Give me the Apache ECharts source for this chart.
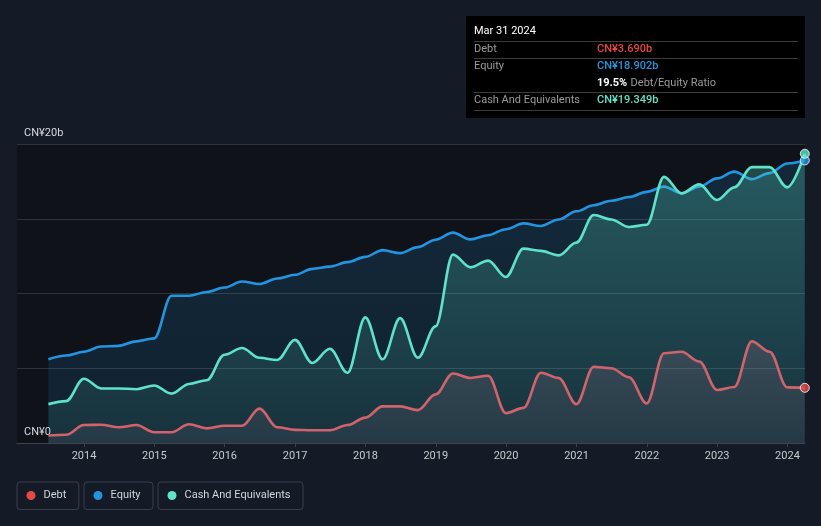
<!DOCTYPE html>
<html>
<head>
<meta charset="utf-8">
<script src="https://cdn.jsdelivr.net/npm/echarts@6/dist/echarts.min.js"></script>
<style>
html,body{margin:0;padding:0;background:#151b26;}
#c{width:821px;height:526px;}
</style>
</head>
<body>
<div id="c"></div>
<script>
// ---- data (CN¥ billions, quarter ends) ----
const dates = [
  '2013-06-30','2013-09-30','2013-12-31',
  '2014-03-31','2014-06-30','2014-09-30','2014-12-31',
  '2015-03-31','2015-06-30','2015-09-30','2015-12-31',
  '2016-03-31','2016-06-30','2016-09-30','2016-12-31',
  '2017-03-31','2017-06-30','2017-09-30','2017-12-31',
  '2018-03-31','2018-06-30','2018-09-30','2018-12-31',
  '2019-03-31','2019-06-30','2019-09-30','2019-12-31',
  '2020-03-31','2020-06-30','2020-09-30','2020-12-31',
  '2021-03-31','2021-06-30','2021-09-30','2021-12-31',
  '2022-03-31','2022-06-30','2022-09-30','2022-12-31',
  '2023-03-31','2023-06-30','2023-09-30','2023-12-31',
  '2024-03-31'
];
const debt = [
  0.50, 0.55, 1.20,
  1.22, 1.05, 1.20, 0.72,
  0.72, 1.25, 0.98, 1.15,
  1.15, 2.30, 1.05, 0.88,
  0.85, 0.85, 1.20, 1.70,
  2.45, 2.45, 2.20, 3.25,
  4.65, 4.35, 4.50, 2.00,
  2.35, 4.70, 4.35, 2.60,
  5.10, 5.00, 4.40, 2.65,
  6.00, 6.10, 5.45, 3.55,
  3.75, 6.80, 6.10, 3.72,
  3.690
];
const equity = [
  5.60, 5.85, 6.10,
  6.45, 6.50, 6.80, 7.00,
  9.85, 9.85, 10.10, 10.40,
  10.80, 10.64, 11.00, 11.25,
  11.65, 11.80, 12.10, 12.45,
  12.90, 12.70, 13.10, 13.60,
  14.07, 13.62, 13.90, 14.30,
  14.69, 14.52, 14.95, 15.50,
  15.90, 16.20, 16.45, 16.80,
  17.15, 16.70, 17.15, 17.70,
  18.15, 17.65, 18.05, 18.70,
  18.902
];
const cash = [
  2.60, 2.80, 4.30,
  3.65, 3.65, 3.60, 3.85,
  3.30, 3.95, 4.20, 5.90,
  6.35, 5.70, 5.55, 6.90,
  5.35, 6.30, 4.70, 8.40,
  5.60, 8.35, 5.70, 7.80,
  12.60, 11.75, 12.20, 11.10,
  13.00, 12.85, 12.55, 13.40,
  15.25, 14.95, 14.45, 14.60,
  17.80, 16.70, 17.30, 16.25,
  17.10, 18.45, 18.45, 17.10,
  19.349
];
const seriesNames = ['Debt', 'Equity', 'Cash And Equivalents'];
const yLabelValues = [0, 20];
const yLabelTexts = ['CN¥0', 'CN¥20b'];
const tooltipTitle = 'Mar 31 2024';

// ---- styling ----
const FONT = 'Roboto';
const C_DEBT_LINE = '#d0636b', C_DEBT = '#e44848';
const C_EQ = '#2394df';
const C_CASH = '#5ee2c9';

const pair = arr => dates.map((d, i) => [d, arr[i]]);
const last = arr => arr[arr.length - 1];
const lastDate = dates[dates.length - 1];
const fmt = v => 'CN¥' + v.toFixed(3) + 'b';

function grad(c0, c1) {
  return new echarts.graphic.LinearGradient(0, 0, 0, 1, [
    {offset: 0, color: c0}, {offset: 1, color: c1}
  ]);
}

const chart = echarts.init(document.getElementById('c'), null, {renderer: 'canvas'});

const legendBase = {
  top: 482, icon: 'circle', itemWidth: 15, itemHeight: 9, itemGap: 0,
  padding: [8, 12.5, 8.5, 9.5],
  borderColor: '#3a404a', borderWidth: 1, borderRadius: 3,
  selectedMode: false,
  textStyle: {color: '#d2d5da', fontSize: 11, fontFamily: FONT}
};

const lineBase = {
  type: 'line', smooth: 0.35, smoothMonotone: 'x', showSymbol: false,
  silent: true, animation: false
};

const ratio = (last(debt) / last(equity) * 100).toFixed(1) + '%';
const tx = 474, vx = 597;
const sepColor = '#3c3c3c';
function sep(y) {
  return {type: 'line', z: 101, shape: {x1: tx, y1: y, x2: 798, y2: y}, style: {stroke: sepColor, lineWidth: 1}, silent: true};
}
function txt(x, y, s, fill, weight) {
  return {type: 'text', z: 102, x: x, y: y, silent: true,
    style: {text: s, fill: fill, font: (weight || 'normal') + ' 11px ' + FONT, verticalAlign: 'middle'}};
}

const option = {
  backgroundColor: '#151b26',
  animation: false,
  grid: {left: 17, right: 16, top: 144, bottom: 83, show: true, backgroundColor: '#0f1319', borderWidth: 0},
  xAxis: {
    type: 'time',
    min: Date.UTC(2013, 0, 18),
    max: Date.UTC(2024, 3, 1),
    splitNumber: 11,
    minInterval: 365 * 86400000,
    maxInterval: 366 * 86400000,
    axisLine: {show: true, lineStyle: {color: '#3e434c', width: 1}},
    axisTick: {show: true, length: 4, lineStyle: {color: '#3e434c'}},
    splitLine: {show: false},
    axisLabel: {color: '#c8cbd0', fontSize: 11, fontFamily: FONT, margin: 8, formatter: '{yyyy}'}
  },
  yAxis: {
    type: 'value', min: 0, max: 20, interval: 5,
    axisLine: {show: false}, axisTick: {show: false},
    splitLine: {show: true, lineStyle: {color: 'rgba(255,255,255,0.14)', width: 1}},
    axisLabel: {
      inside: true, margin: 7, color: '#d6d8dc', fontSize: 11, fontFamily: FONT,
      verticalAlign: 'bottom', padding: [0, 0, 5, 0],
      formatter: v => { const k = yLabelValues.indexOf(v); return k >= 0 ? yLabelTexts[k] : ''; }
    }
  },
  legend: [
    Object.assign({}, legendBase, {left: 17, data: [{name: seriesNames[0], itemStyle: {color: C_DEBT}}]}),
    Object.assign({}, legendBase, {left: 84, data: [{name: seriesNames[1], itemStyle: {color: C_EQ}}]}),
    Object.assign({}, legendBase, {left: 158, data: [{name: seriesNames[2], itemStyle: {color: C_CASH}}]})
  ],
  series: [
    Object.assign({}, lineBase, {
      name: seriesNames[1], data: pair(equity), z: 2,
      itemStyle: {color: C_EQ},
      lineStyle: {color: C_EQ, width: 2.6},
      areaStyle: {color: grad('rgba(35,148,223,0.24)', 'rgba(35,148,223,0.17)')}
    }),
    Object.assign({}, lineBase, {
      name: seriesNames[2], data: pair(cash), z: 3,
      itemStyle: {color: C_CASH},
      lineStyle: {color: C_CASH, width: 2.6},
      areaStyle: {color: grad('rgba(94,226,201,0.39)', 'rgba(94,226,201,0.11)')}
    }),
    Object.assign({}, lineBase, {
      name: seriesNames[0], data: pair(debt), z: 4,
      itemStyle: {color: C_DEBT},
      lineStyle: {color: C_DEBT_LINE, width: 2.6},
      areaStyle: {color: grad('rgba(150,110,130,0.36)', 'rgba(110,100,120,0.22)')}
    }),
    {
      type: 'scatter', silent: true, z: 6, symbolSize: 9, clip: false,
      data: [
        {value: [lastDate, last(equity)], itemStyle: {color: C_EQ}},
        {value: [lastDate, last(cash)], itemStyle: {color: C_CASH}},
        {value: [lastDate, last(debt)], itemStyle: {color: C_DEBT}}
      ],
      itemStyle: {borderColor: '#ffffff', borderWidth: 1}
    }
  ],
  graphic: [
    {type: 'rect', z: 100, shape: {x: 466, y: 16, width: 339, height: 102}, style: {fill: '#000000'}, silent: true},
    txt(tx, 31, tooltipTitle, '#ffffff'),
    sep(41.5),
    txt(tx, 49.5, seriesNames[0], '#9a9a9a'),
    txt(vx, 49.5, fmt(last(debt)), '#e84545', 500),
    sep(58.5),
    txt(tx, 66.5, seriesNames[1], '#9a9a9a'),
    txt(vx, 66.5, fmt(last(equity)), C_EQ, 500),
    {type: 'text', z: 102, x: vx, y: 83.5, silent: true, style: {
      text: '{a|' + ratio + '} {b|Debt/Equity Ratio}', verticalAlign: 'middle',
      rich: {
        a: {fill: '#ffffff', font: 'bold 11px ' + FONT},
        b: {fill: '#9a9a9a', font: 'normal 11px ' + FONT}
      }
    }},
    sep(92.5),
    txt(tx, 100.5, seriesNames[2], '#9a9a9a'),
    txt(vx, 100.5, fmt(last(cash)), C_CASH, 500),
    sep(110.5)
  ]
};
chart.setOption(option);
</script>
</body>
</html>
